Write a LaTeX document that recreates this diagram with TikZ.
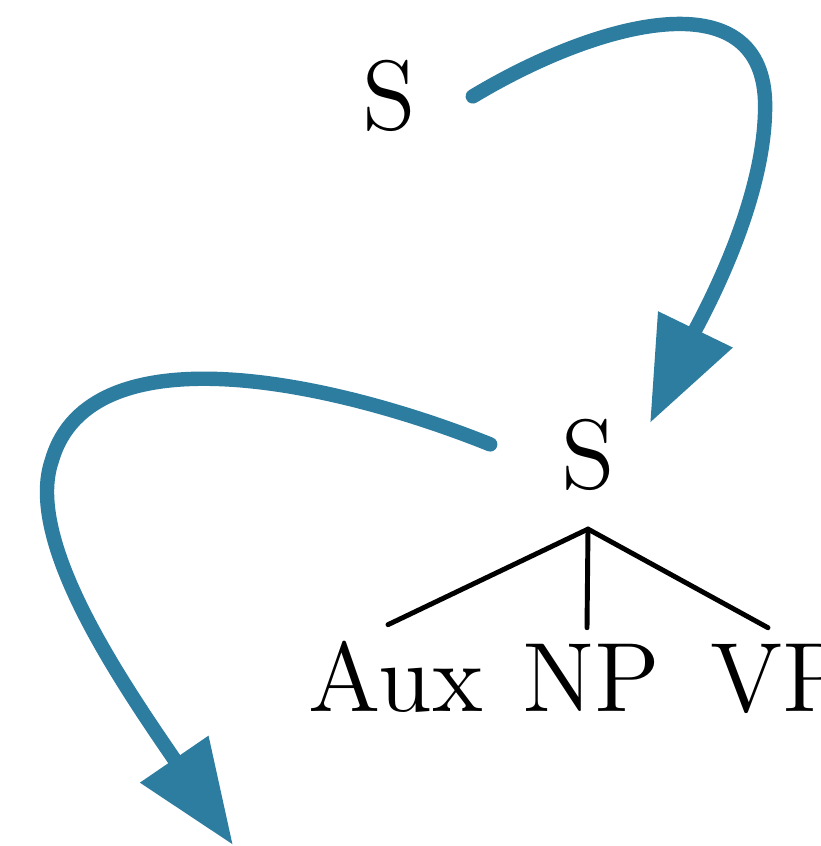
\documentclass[tikz,border=0pt]{standalone}
\usepackage{fontspec}
\setmainfont{lmroman12-regular.otf}
\usepackage[HTML]{xcolor}
\usepackage{tikz}
\usetikzlibrary{arrows.meta}

\definecolor{moveblue}{HTML}{2C7DA0}

\begin{document}
\begin{tikzpicture}[x=0.01cm,y=-0.01cm,
  cat/.style={inner sep=0pt,anchor=base,font=\fontsize{28}{34}\selectfont},
  branch/.style={line width=1.4pt,line cap=round},
  move/.style={moveblue,line width=4.1pt,line cap=round,
    -{Triangle[length=1.04cm,width=0.79cm]}}]
\useasboundingbox (0,0) rectangle (820,846);

% categories
\node[cat,outer xsep=0.57cm] (top) at (389,130) {S};
\node[cat,outer xsep=0.71cm,outer ysep=0.39cm] (s) at (588,488) {S};
\node[cat,outer ysep=0.16cm] (aux) at (396,711) {Aux};
\node[cat,outer ysep=0.16cm] (np) at (591,711) {NP};
\node[cat,outer ysep=0.16cm] (vp) at (779,711) {VP};

% branches
\draw[branch] (s.south) -- ([xshift=-0.08cm]aux.north);
\draw[branch] (s.south) -- ([xshift=-0.04cm]np.north);
\draw[branch] (s.south) -- ([xshift=-0.11cm]vp.north);

% movement arrows
\coordinate (into) at (650,423);
\coordinate (away) at (233,845);
\draw[move] (top.east) .. controls (600,20) and (760,-20) .. (765,100)
  .. controls (768,200) and (700,320) .. (into);
\draw[move] ([yshift=0.1cm]s.west) .. controls (330,380) and (90,330) .. (52,460)
  .. controls (24,540) and (120,680) .. (away);
\end{tikzpicture}
\end{document}
